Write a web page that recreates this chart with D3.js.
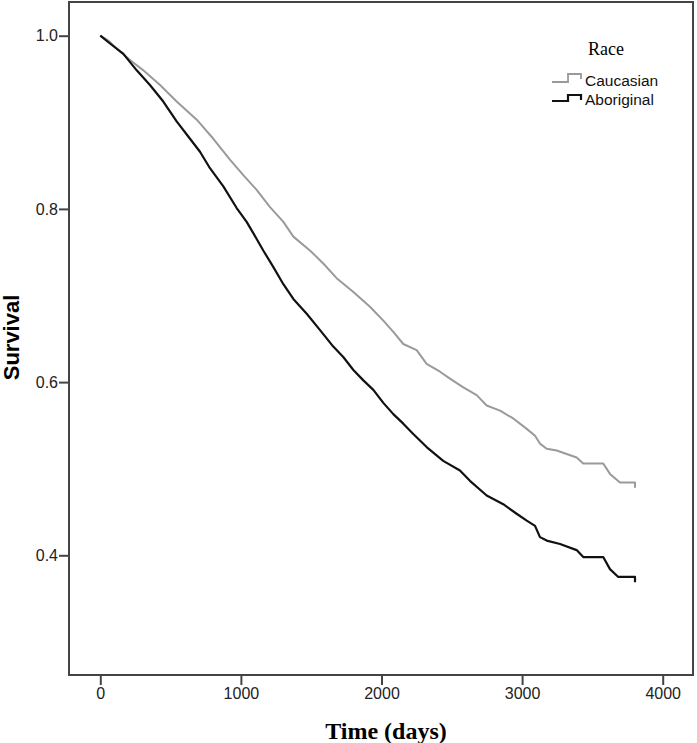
<!DOCTYPE html>
<html>
<head>
<meta charset="utf-8">
<script src="https://cdn.jsdelivr.net/npm/d3@7"></script>
<style>
  body { margin: 0; background: #fff; }
  svg { display: block; }
  .tick text { font-family: "Liberation Sans", Arial, sans-serif; font-size: 16px; fill: #222; }
  .tick line { stroke: #444; stroke-width: 2px; }
</style>
</head>
<body>
<div id="chart"></div>
<script>
'use strict';

// Kaplan-Meier curves
var caucasianTime = [0, 60, 105, 211, 306, 425, 543, 686, 804, 922, 1017, 1112, 1207, 1302, 1373, 1491, 1586, 1681,
    1800, 1918, 2013, 2084, 2155, 2250, 2321, 2416, 2487, 2582, 2677, 2748, 2843, 2937, 3033, 3092, 3127, 3175,
    3246, 3317, 3388, 3435, 3577, 3625, 3696, 3803, 3803];
var caucasianSurv = [1.0, 0.994, 0.987, 0.972, 0.960, 0.943, 0.924, 0.903, 0.881, 0.857, 0.839, 0.822, 0.802, 0.785, 0.768, 0.752, 0.737, 0.720,
    0.704, 0.687, 0.671, 0.658, 0.644, 0.637, 0.621, 0.612, 0.604, 0.594, 0.585, 0.573, 0.567, 0.558, 0.546, 0.538, 0.529, 0.523,
    0.521, 0.517, 0.513, 0.506, 0.506, 0.494, 0.484, 0.484, 0.478];

var aboriginalTime = [0, 69, 164, 259, 353, 448, 543, 638, 709, 780, 875, 970, 1041, 1088, 1159, 1230, 1302, 1373,
    1468, 1563, 1657, 1728, 1800, 1871, 1942, 2013, 2084, 2155, 2226, 2321, 2439, 2558, 2629, 2748, 2866, 2961,
    3033, 3092, 3127, 3175, 3270, 3388, 3435, 3577, 3625, 3684, 3803, 3803];
var aboriginalSurv = [1.0, 0.991, 0.979, 0.960, 0.943, 0.924, 0.901, 0.881, 0.866, 0.847, 0.826, 0.801, 0.785, 0.772, 0.752, 0.733, 0.713, 0.696,
    0.679, 0.660, 0.641, 0.629, 0.614, 0.602, 0.591, 0.576, 0.563, 0.552, 0.540, 0.525, 0.509, 0.498, 0.486, 0.469, 0.459, 0.448,
    0.440, 0.434, 0.421, 0.417, 0.413, 0.406, 0.398, 0.398, 0.384, 0.375, 0.375, 0.369];

var xTicks = [0, 1000, 2000, 3000, 4000];
var yTicks = [0.4, 0.6, 0.8, 1.0];
var seriesNames = ['Caucasian', 'Aboriginal'];
var seriesColors = ['#9a9a9a', '#111111'];

var myApp = {};
myApp.w = 697;
myApp.h = 743;
myApp.frame = {left: 69, top: 2, right: 693, bottom: 675};

myApp.toPoints = function(ts, ss) {
    return ts.map(function(t, i) { return [t, ss[i]]; });
}

myApp.run = function() {
    var svg = d3.select('#chart').append('svg')
        .attr('width', myApp.w)
        .attr('height', myApp.h);

    var x = d3.scaleLinear().domain([0, 4000]).range([100.3, 662.7]);
    var y = d3.scaleLinear().domain([1.0, 0.4]).range([35.7, 555.3]);

    var f = myApp.frame;

    // axes (ticks only, frame drawn separately)
    var xAxis = svg.append('g')
        .attr('transform', 'translate(0,' + f.bottom + ')')
        .call(d3.axisBottom(x).tickValues(xTicks).tickFormat(d3.format('d')).tickSize(10).tickSizeOuter(0).tickPadding(3));
    xAxis.select('.domain').remove();

    var yAxis = svg.append('g')
        .attr('transform', 'translate(' + f.left + ',0)')
        .call(d3.axisLeft(y).tickValues(yTicks).tickFormat(d3.format('.1f')).tickSize(10).tickSizeOuter(0).tickPadding(1));
    yAxis.select('.domain').remove();

    // frame
    svg.append('rect')
        .attr('x', f.left)
        .attr('y', f.top)
        .attr('width', f.right - f.left)
        .attr('height', f.bottom - f.top)
        .style('fill', 'none')
        .style('stroke', '#444')
        .style('stroke-width', 2);

    var line = d3.line()
        .x(function(d) { return x(d[0]); })
        .y(function(d) { return y(d[1]); });

    var data = [
        myApp.toPoints(caucasianTime, caucasianSurv),
        myApp.toPoints(aboriginalTime, aboriginalSurv)
    ];

    svg.selectAll('path.km')
        .data(data)
        .enter()
        .append('path')
        .attr('class', 'km')
        .attr('d', line)
        .style('fill', 'none')
        .style('stroke', function(d, i) { return seriesColors[i]; })
        .style('stroke-width', function(d, i) { return i == 0 ? 2 : 2.2; })
        .style('stroke-linejoin', 'round');

    // axis titles
    svg.append('text')
        .attr('x', 386)
        .attr('y', 739)
        .attr('text-anchor', 'middle')
        .style('font-family', '"Liberation Serif", "Times New Roman", serif')
        .style('font-weight', 'bold')
        .style('font-size', '24px')
        .text('Time (days)');

    svg.append('text')
        .attr('transform', 'translate(19,337.5) rotate(-90)')
        .attr('text-anchor', 'middle')
        .style('font-family', '"Liberation Sans", Arial, sans-serif')
        .style('font-weight', 'bold')
        .style('font-size', '22px')
        .text('Survival');

    // legend
    var lg = svg.append('g').attr('class', 'legend');
    lg.append('text')
        .attr('x', 606)
        .attr('y', 55)
        .attr('text-anchor', 'middle')
        .style('font-family', '"Liberation Serif", "Times New Roman", serif')
        .style('font-size', '18px')
        .text('Race');

    var rows = [{low: 82, high: 74, end: 79, base: 85.5}, {low: 101, high: 95, end: 100, base: 104.7}];
    rows.forEach(function(r, i) {
        lg.append('path')
            .attr('d', 'M552,' + r.low + 'H568V' + r.high + 'H581V' + r.end)
            .style('fill', 'none')
            .style('stroke', seriesColors[i])
            .style('stroke-width', i == 0 ? 1.8 : 2.2);
        lg.append('text')
            .attr('x', 585)
            .attr('y', r.base)
            .style('font-family', '"Liberation Sans", Arial, sans-serif')
            .style('font-size', '15.5px')
            .style('fill', '#111')
            .text(seriesNames[i]);
    });
}

myApp.run();
</script>
</body>
</html>
